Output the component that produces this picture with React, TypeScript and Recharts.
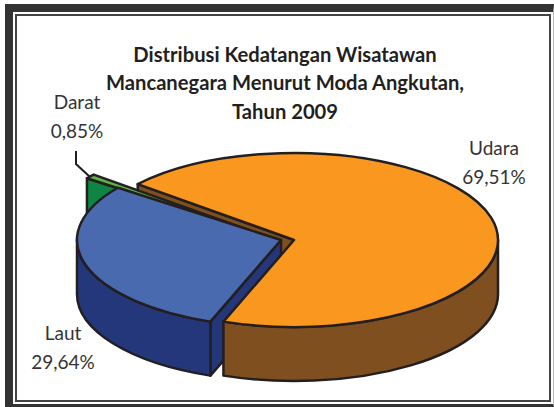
import { PieChart, Pie } from "recharts";

const slices = ["Udara", "Laut", "Darat"];
const shares = [69.51, 29.64, 0.85];

const topColors = ["#F9971E", "#4A6AB0", "#5CB446"];
const sideColors = ["#7F4F20", "#24377B", "#0E8543"];
const INK = "#231F20";

const data = slices.map((name, i) => ({ name, value: shares[i] }));

// squash the pie into a tilted disc, Excel 3D style
const RX = 204;
const RY = 87;
const DEPTH = 54;
// exploded slice offsets from the pie centre
const offsets = [
  { x: 0, y: 0 },
  { x: -13, y: 0 },
  { x: -44, y: -9.5 },
];
const labelSpots = [
  { x: 494, y: 155 },
  { x: 63, y: 340 },
  { x: 77, y: 109 },
];

const rad = (a: number) => (a * Math.PI) / 180;

function slicePaths(p: any) {
  const off = offsets[p.index];
  const cx = p.cx + off.x;
  const cy = p.cy + off.y;
  const pt = (a: number, dy = 0) => ({
    x: cx + RX * Math.cos(rad(a)),
    y: cy - RY * Math.sin(rad(a)) + dy,
  });
  const s = pt(p.startAngle);
  const e = pt(p.endAngle);
  const large = Math.abs(p.startAngle - p.endAngle) > 180 ? 1 : 0;
  const top = `M${cx},${cy} L${s.x},${s.y} A${RX},${RY} 0 ${large} 1 ${e.x},${e.y} Z`;

  const sd = pt(p.startAngle, DEPTH);
  const wall = `M${cx},${cy} L${s.x},${s.y} L${sd.x},${sd.y} L${cx},${cy + DEPTH} Z`;

  const r0 = Math.min(p.startAngle, 0);
  const r1 = Math.max(p.endAngle, -180);
  let rim = null;
  if (r0 > r1) {
    const a = pt(r0);
    const b = pt(r1);
    const c = pt(r1, DEPTH);
    const d = pt(r0, DEPTH);
    rim = `M${a.x},${a.y} A${RX},${RY} 0 0 1 ${b.x},${b.y} L${c.x},${c.y} A${RX},${RY} 0 0 0 ${d.x},${d.y} Z`;
  }
  return { top, wall, rim };
}

const Face = ({ d, fill }: { d: string | null; fill: string }) =>
  d ? <path d={d} fill={fill} stroke={INK} strokeWidth={2.5} strokeLinejoin="round" /> : null;

// back: walls hidden behind Laut
function BackLayer(p: any) {
  const { top, wall } = slicePaths(p);
  if (p.index === 0) return <Face d={wall} fill={sideColors[0]} />;
  if (p.index === 2)
    return (
      <g>
        <Face d={wall} fill={sideColors[2]} />
        <Face d={top} fill={topColors[2]} />
      </g>
    );
  return <g />;
}

function MidLayer(p: any) {
  if (p.index !== 1) return <g />;
  const { top, wall, rim } = slicePaths(p);
  return (
    <g>
      <Face d={wall} fill={sideColors[1]} />
      <Face d={rim} fill={sideColors[1]} />
      <Face d={top} fill={topColors[1]} />
    </g>
  );
}

function FrontLayer(p: any) {
  if (p.index !== 0) return <g />;
  const { top, rim } = slicePaths(p);
  return (
    <g>
      <Face d={rim} fill={sideColors[0]} />
      <Face d={top} fill={topColors[0]} />
    </g>
  );
}

function renderLabel(p: any) {
  const spot = labelSpots[p.index];
  const pct = p.value.toFixed(2).replace(".", ",") + "%";
  return (
    <g>
      <text x={spot.x} y={spot.y} textAnchor="middle" fontFamily="Lato" fontSize={19} fill="#333">
        {p.name}
      </text>
      <text x={spot.x} y={spot.y + 29} textAnchor="middle" fontFamily="Lato" fontSize={19} fill="#333">
        {pct}
      </text>
      {p.index === 2 && <polyline points="76,151 76,164 90,177" fill="none" stroke={INK} strokeWidth={2} />}
    </g>
  );
}

const titleLines = ["Distribusi Kedatangan Wisatawan", "Mancanegara Menurut Moda Angkutan,", "Tahun 2009"];
const titleY = [62, 90, 119];

const pieProps = {
  data,
  dataKey: "value",
  nameKey: "name",
  cx: 294,
  cy: 240,
  outerRadius: 204,
  startAngle: 140,
  endAngle: -220,
  isAnimationActive: false,
  labelLine: false,
};

export default function App() {
  return (
    <div style={{ position: "absolute", left: 0, top: 0, width: 554, height: 407, background: "#fff", overflow: "hidden" }}>
      <div style={{ position: "absolute", left: 5, top: 4, width: 549, height: 403, boxSizing: "border-box", borderLeft: "8px solid #333", borderTop: "8px solid #333", borderRight: "1px solid #bbb", borderBottom: "3px solid #333" }} />
      <div style={{ position: "absolute", left: 15, top: 14, width: 536, height: 388, boxSizing: "border-box", border: "2px solid #444" }} />
      <div style={{ position: "absolute", left: 0, top: 0 }}>
        <PieChart width={554} height={407} margin={{ top: 0, right: 0, bottom: 0, left: 0 }}>
          <Pie {...pieProps} shape={BackLayer} />
          <Pie {...pieProps} shape={MidLayer} />
          <Pie {...pieProps} shape={FrontLayer} label={renderLabel} />
          {titleLines.map((t, i) => (
            <text key={t} x={285} y={titleY[i]} textAnchor="middle" fontFamily="Lato" fontWeight={700} fontSize={20.2} fill="#231F20">
              {t}
            </text>
          ))}
        </PieChart>
      </div>
    </div>
  );
}
